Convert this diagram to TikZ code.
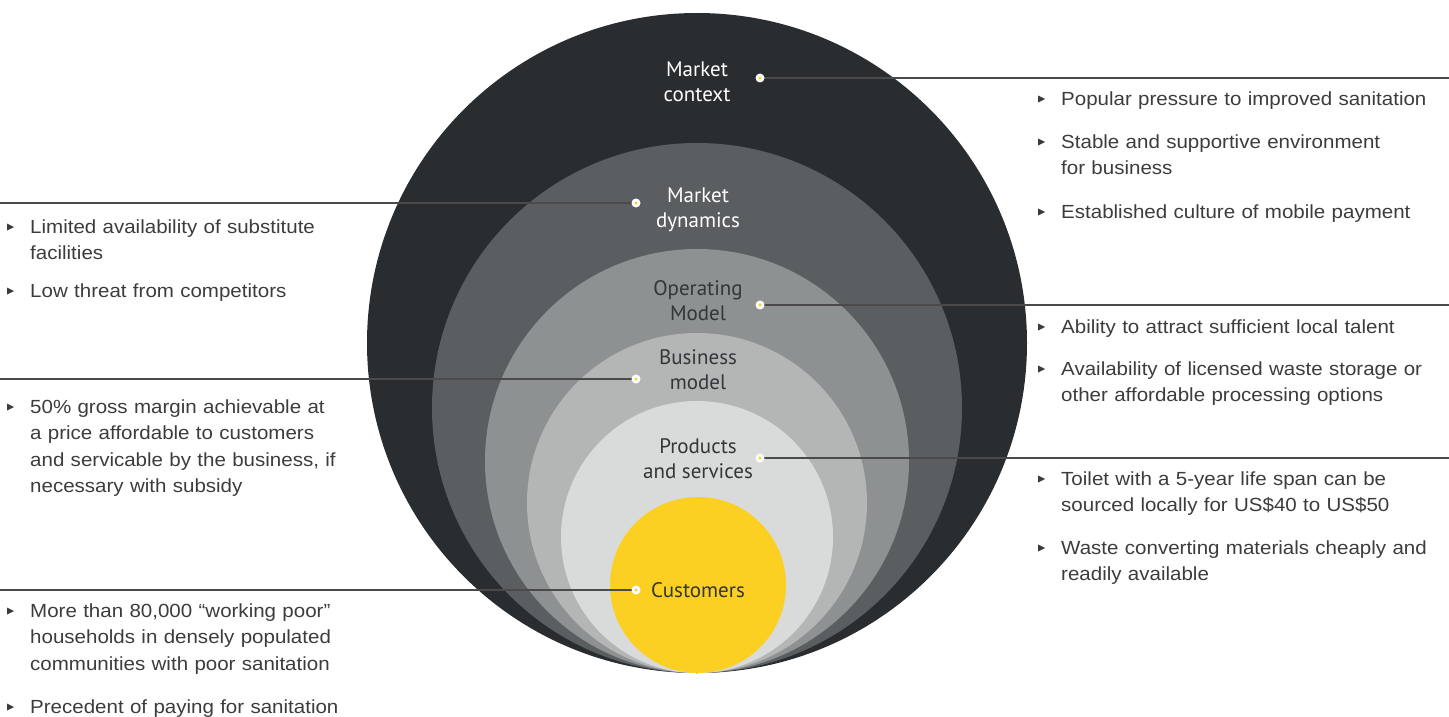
\documentclass[tikz,border=0pt]{standalone}
\usepackage{fontspec}
\setmainfont{Liberation Sans}[FakeStretch=1.08]
\newfontfamily\lblfont{PT Sans}
\definecolor{cOuter}{HTML}{2A2D30}
\definecolor{cDyn}{HTML}{5A5E60}
\definecolor{cOp}{HTML}{8E9192}
\definecolor{cBus}{HTML}{B4B6B6}
\definecolor{cProd}{HTML}{D9DADA}
\definecolor{cCust}{HTML}{FCD023}
\definecolor{cLine}{HTML}{4A4A4A}
\definecolor{cText}{HTML}{3C3C3C}
\definecolor{cLblDark}{HTML}{333638}
\tikzset{
  ring/.style={circle, inner sep=0pt, draw=none},
  lbl/.style={font=\lblfont\fontsize{21}{25}\selectfont, align=center, inner sep=0pt},
  lbllight/.style={lbl, text=white},
  lbldark/.style={lbl, text=cLblDark},
  item/.style={font=\fontsize{19}{26.5}\selectfont, text=cText, anchor=base west, inner sep=0pt, text width=420pt, align=left},
  leader/.style={draw=cLine, line width=1.2pt},
  bul/.style={fill=cText},
}
\newcommand{\mydot}[1]{\fill[white] (#1) circle (4.5); \fill[cCust] (#1) circle (1.6);}
\newcommand{\mybul}[2]{\fill[bul] (#1-4,#2-9.5) -- (#1+3,#2-6) -- (#1-4,#2-2.5) -- cycle;}
\begin{document}
\begin{tikzpicture}[x=1pt,y=-1pt]
\useasboundingbox (0,0) rectangle (1449,717);
% circles
\fill[cOuter] (697,343) circle (330);
\fill[cDyn] (697,408) circle (265);
\fill[cOp] (697,461) circle (212);
\fill[cBus] (697,503) circle (170);
\fill[cProd] (697,537) circle (136);
\fill[cCust] (698,585) circle (88);
% labels
\node[lbllight] (lctx) at (697,82) {Market\\context};
\node[lbllight] (ldyn) at (698,210) {Market\\dynamics};
\node[lbldark] (lop) at (698,301) {Operating\\Model};
\node[lbldark] (lbus) at (698,370) {Business\\model};
\node[lbldark] (lprod) at (698,459) {Products\\and services};
\node[lbldark] (lcust) at (698,590) {Customers};
% anchor points
\coordinate (dctx) at (760,78);
\coordinate (ddyn) at (636,203);
\coordinate (dop) at (760,305);
\coordinate (dbus) at (636,379);
\coordinate (dprod) at (760,458);
\coordinate (dcust) at (636,590);
\coordinate (ectx) at (1449,78);
\coordinate (edyn) at (0,203);
\coordinate (eop) at (1449,305);
\coordinate (ebus) at (0,379);
\coordinate (eprod) at (1449,458);
\coordinate (ecust) at (0,590);
% leaders
\draw[leader] (dctx) -- (ectx);
\draw[leader] (edyn) -- (ddyn);
\draw[leader] (dop) -- (eop);
\draw[leader] (ebus) -- (dbus);
\draw[leader] (dprod) -- (eprod);
\draw[leader] (ecust) -- (dcust);
\mydot{dctx}\mydot{ddyn}\mydot{dop}\mydot{dbus}\mydot{dprod}\mydot{dcust}
% right items
\node[item] (r1a) at (1061,105) {Popular pressure to improved sanitation};
\node[item] (r1b) at (1061,148) {Stable and supportive environment\\ for business};
\node[item] (r1c) at (1061,218) {Established culture of mobile payment};
\node[item] (r2a) at (1061,333) {Ability to attract sufficient local talent};
\node[item] (r2b) at (1061,375) {Availability of licensed waste storage or\\other affordable processing options};
\node[item] (r3a) at (1061,485) {Toilet with a 5-year life span can be\\sourced locally for US\$40 to US\$50};
\node[item] (r3b) at (1061,554) {Waste converting materials cheaply and\\readily available};
% left items
\node[item] (l1a) at (30,233) {Limited availability of substitute\\facilities};
\node[item] (l1b) at (30,297) {Low threat from competitors};
\node[item] (l2a) at (30,413) {50\% gross margin achievable at\\a price affordable to customers\\and servicable by the business, if\\necessary with subsidy};
\node[item] (l3a) at (30,617) {More than 80,000 “working poor”\\households in densely populated\\communities with poor sanitation};
\node[item] (l3b) at (30,713) {Precedent of paying for sanitation};
% bullets
\mybul{1042}{105}\mybul{1042}{148}\mybul{1042}{218}
\mybul{1042}{333}\mybul{1042}{375}
\mybul{1042}{485}\mybul{1042}{554}
\mybul{11}{233}\mybul{11}{297}\mybul{11}{413}\mybul{11}{617}\mybul{11}{713}
\end{tikzpicture}
\end{document}
